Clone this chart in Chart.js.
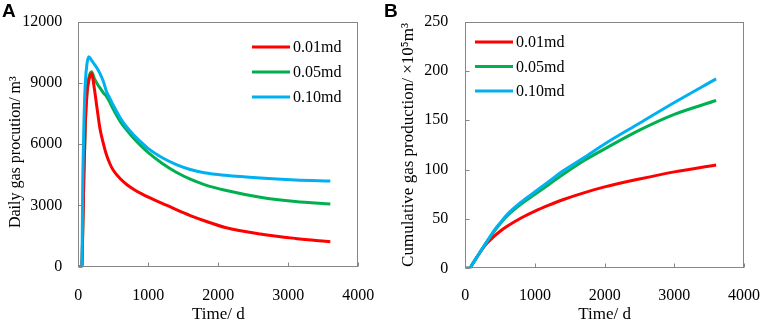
<!DOCTYPE html>
<html><head><meta charset="utf-8">
<script src="https://cdn.jsdelivr.net/npm/chart.js@4.4.0/dist/chart.umd.min.js"></script>
<style>
html,body{margin:0;padding:0;background:#fff;overflow:hidden;width:761px;height:320px}
#wrap{position:relative;width:761px;height:320px;overflow:hidden;background:#fff}
.panel{position:absolute;top:0;height:326px}
#pa{left:0;width:380px}
#pb{left:380px;width:381px}
.lbl{position:absolute;top:1px;font:bold 19px "Liberation Sans",Arial,sans-serif;line-height:19px;color:#000}
</style></head><body>
<div id="wrap">
<div class="panel" id="pa"><canvas id="ca" width="380" height="326"></canvas></div>
<div class="panel" id="pb"><canvas id="cb" width="381" height="326"></canvas></div>
<div class="lbl" style="left:2px">A</div>
<div class="lbl" style="left:384px">B</div>
</div>
<script>
// ---------- data ----------
const seriesLabels = ['0.01md', '0.05md', '0.10md'];
const seriesColors = ['#FF0000', '#00B050', '#00B0F0'];

// Panel A: daily gas production (m3) vs time (d)
const timeA = [0, 50, 65, 80, 100, 125, 150, 190, 230, 270, 310, 360, 400, 450, 500, 600, 700, 800, 900, 1000, 1200, 1400, 1600, 1800, 2100, 2600, 3100, 3600];
const dailyK001 = [0, 0, 2000, 4500, 7000, 8500, 9100, 9450, 8700, 7700, 6750, 6000, 5500, 5050, 4720, 4300, 4000, 3770, 3580, 3410, 3100, 2790, 2500, 2250, 1920, 1600, 1385, 1222];
const dailyK005 = [0, 0, 2000, 4500, 7000, 8600, 9250, 9540, 9200, 8950, 8750, 8500, 8350, 8050, 7700, 7100, 6650, 6250, 5900, 5580, 5050, 4620, 4280, 4020, 3740, 3400, 3190, 3070];
const dailyK010 = [0, 0, 4500, 7000, 9000, 9950, 10270, 10100, 9900, 9700, 9450, 9050, 8600, 8250, 7900, 7280, 6800, 6420, 6080, 5780, 5330, 5000, 4760, 4600, 4470, 4335, 4245, 4192];

// Panel B: cumulative gas production (x10^5 m3) vs time (d)
const timeB = [0, 60, 100, 200, 300, 400, 500, 600, 800, 1000, 1200, 1400, 1700, 2000, 2500, 3000, 3600];
const cumK001 = [0, 0, 4, 15, 24.5, 31.5, 37.5, 42.5, 51, 58, 64, 69.5, 76.5, 82.5, 90.5, 97.7, 104.7];
const cumK005 = [0, 0, 4, 15, 26, 36, 45, 53, 65, 75, 85, 95, 109, 121, 140, 156, 170];
const cumK010 = [0, 0, 4, 15, 26, 37, 46, 54.5, 67, 77.5, 88, 98.5, 112, 126, 147, 168, 192];

// axis ticks
const xTickStep = 1000, xMax = 4000;
const yTickStepA = 3000, yMaxA = 12000;
const yTickStepB = 50, yMaxB = 250;

// ---------- helpers ----------
const SERIF = '"Liberation Serif","Times New Roman",serif';
const AXIS_GRAY = '#868686';

function pts(xs, ys) { return xs.map((x, i) => ({x: x, y: ys[i]})); }

const frameAndTicks = {
  id: 'frameAndTicks',
  afterDraw(chart) {
    const {ctx, chartArea: a, scales} = chart;
    ctx.save();
    ctx.strokeStyle = AXIS_GRAY;
    ctx.lineWidth = 1;
    const L = Math.round(a.left) + 0.5, R = Math.round(a.right) - 0.5;
    const T = Math.round(a.top) + 0.5, B = Math.round(a.bottom) - 0.5;
    ctx.strokeRect(L, T, R - L, B - T);
    const len = 4;
    ctx.beginPath();
    scales.x.ticks.forEach((t, i) => {
      const px = Math.round(scales.x.getPixelForTick(i)) + 0.5;
      ctx.moveTo(px, B); ctx.lineTo(px, B - len);
    });
    scales.y.ticks.forEach((t, i) => {
      const py = Math.round(scales.y.getPixelForTick(i)) + 0.5;
      ctx.moveTo(L, py); ctx.lineTo(L + len, py);
    });
    ctx.stroke();
    ctx.restore();
  }
};

const customLegend = {
  id: 'customLegend',
  afterDraw(chart, args, o) {
    const ctx = chart.ctx;
    ctx.save();
    ctx.font = '16px ' + SERIF;
    ctx.textBaseline = 'middle';
    ctx.textAlign = 'left';
    o.order.forEach((di, k) => {
      const ds = chart.data.datasets[di];
      const y = o.y0 + k * o.dy;
      ctx.strokeStyle = ds.borderColor;
      ctx.lineWidth = 3;
      ctx.beginPath(); ctx.moveTo(o.x0, y); ctx.lineTo(o.x1, y); ctx.stroke();
      ctx.fillStyle = '#000';
      ctx.fillText(ds.label, o.tx, y + 1);
    });
    ctx.restore();
  }
};

function dataset(i, xs, ys, order) {
  return {
    label: seriesLabels[i], data: pts(xs, ys),
    borderColor: seriesColors[i], backgroundColor: seriesColors[i],
    borderWidth: 3, pointRadius: 0, fill: false,
    cubicInterpolationMode: 'monotone', order: order,
    borderJoinStyle: 'round', borderCapStyle: 'butt'
  };
}

function makeChart(id, cfg) {
  return new Chart(document.getElementById(id), {
    type: 'line',
    data: {datasets: cfg.datasets},
    options: {
      responsive: false, animation: false, events: [],
      layout: {padding: cfg.padding},
      plugins: {legend: {display: false}, tooltip: {enabled: false}, customLegend: cfg.legend},
      scales: {
        x: {
          type: 'linear', min: 0, max: xMax,
          grid: {display: false, drawTicks: false}, border: {display: false},
          ticks: {stepSize: xTickStep, padding: cfg.xPad, color: '#000', maxRotation: 0,
                  font: {family: SERIF, size: 16}, callback: v => String(v)},
          title: {display: true, text: 'Time/ d', color: '#000',
                  font: {family: SERIF, size: 17}, padding: {top: 0, bottom: cfg.xTitlePad}},
          afterFit: s => { s.height = cfg.xHeight; s.paddingLeft = 0; s.paddingRight = 0; }
        },
        y: {
          type: 'linear', min: 0, max: cfg.yMax,
          grid: {display: false, drawTicks: false}, border: {display: false},
          ticks: {stepSize: cfg.yStep, padding: cfg.yPad, color: '#000',
                  font: {family: SERIF, size: 16}, callback: v => String(v)},
          title: {display: true, text: cfg.yTitle, color: '#000',
                  font: {family: SERIF, size: cfg.yTitleSize}, padding: {top: cfg.yTitlePad, bottom: 0}},
          afterFit: s => { s.width = cfg.yWidth; s.paddingTop = 0; s.paddingBottom = 0; }
        }
      }
    },
    plugins: [frameAndTicks, customLegend]
  });
}

makeChart('ca', {
  datasets: [dataset(0, timeA, dailyK001, 1), dataset(1, timeA, dailyK005, 2), dataset(2, timeA, dailyK010, 0)],
  padding: {left: 0, top: 21.5, right: 21.7, bottom: 0},
  xHeight: 326 - 266.7, yWidth: 78.3,
  xPad: 19, yPad: 16, xTitlePad: 1, yTitlePad: 5.7, yTitleSize: 16,
  yMax: yMaxA, yStep: yTickStepA,
  yTitle: 'Daily gas procution/ m\u00B3\u2003',
  legend: {order: [0, 1, 2], x0: 252, x1: 290, tx: 293, y0: 47, dy: 25}
});

makeChart('cb', {
  datasets: [dataset(0, timeB, cumK001, 2), dataset(1, timeB, cumK005, 1), dataset(2, timeB, cumK010, 0)],
  padding: {left: 0, top: 21.6, right: 381 - 364, bottom: 0},
  xHeight: 326 - 268.3, yWidth: 85.3,
  xPad: 17.6, yPad: 17, xTitlePad: 1, yTitlePad: 18.5, yTitleSize: 17,
  yMax: yMaxB, yStep: yTickStepB,
  yTitle: 'Cumulative gas production/ \u00D710\u2075m\u00B3',
  legend: {order: [0, 1, 2], x0: 95, x1: 133, tx: 136, y0: 42, dy: 24.5}
});
</script>
</body></html>
